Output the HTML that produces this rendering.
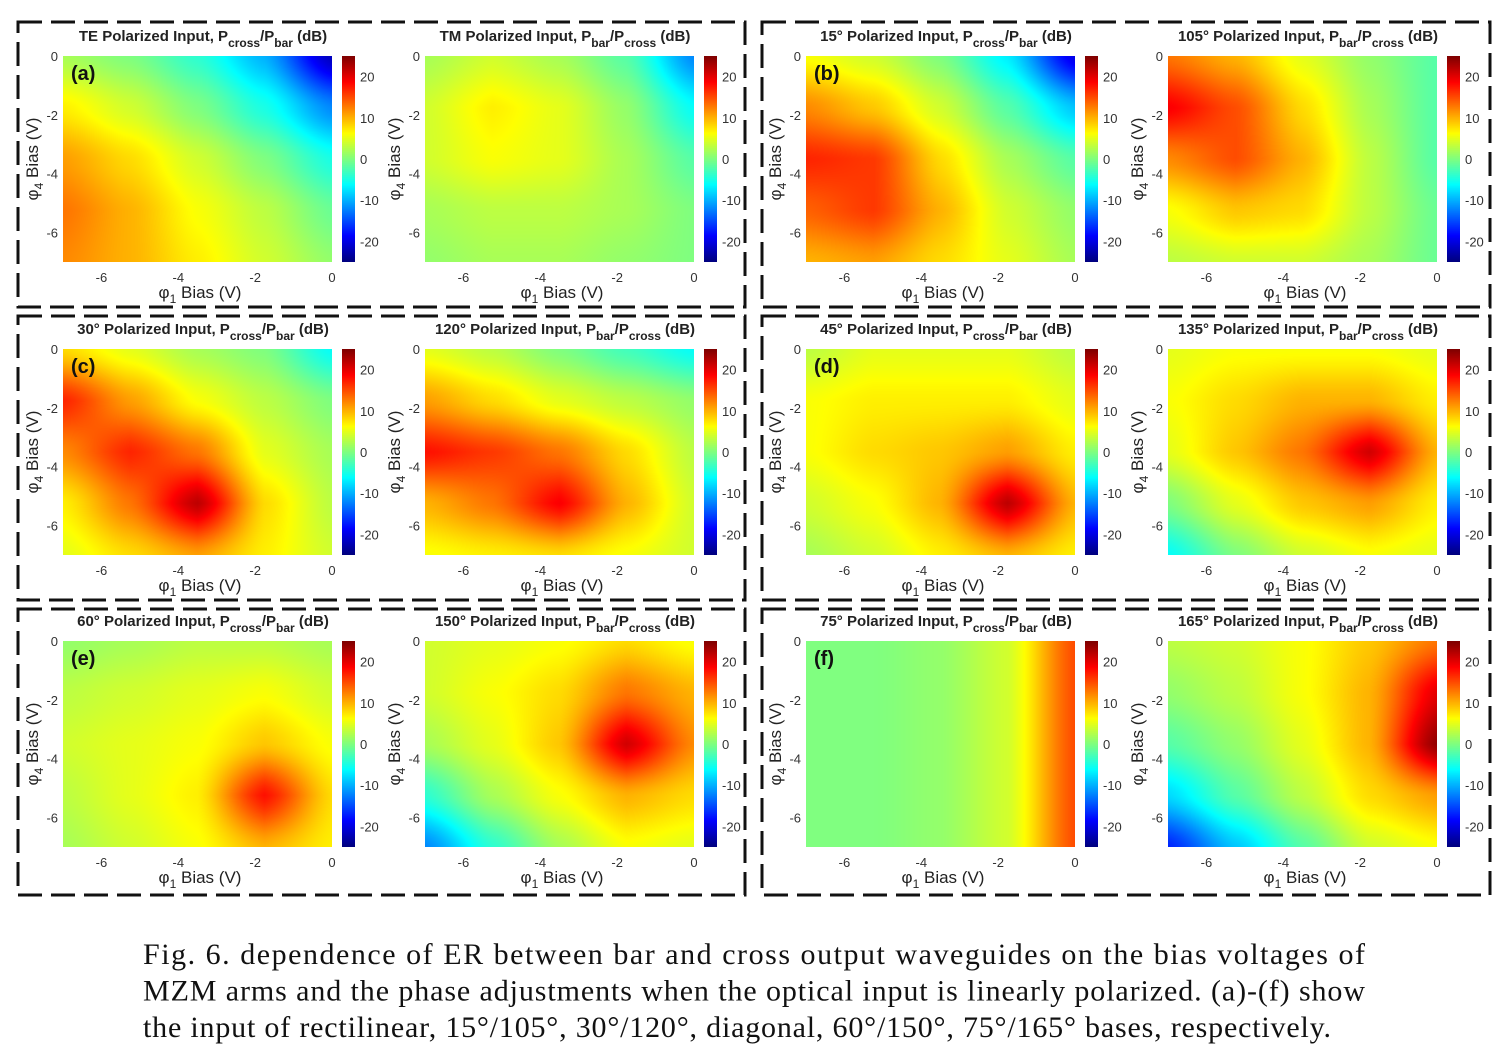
<!DOCTYPE html>
<html><head><meta charset="utf-8"><style>
html,body{margin:0;padding:0;background:#fff;}
#root{position:relative;width:1509px;height:1055px;overflow:hidden;}
canvas{position:absolute;z-index:1;}
svg{position:absolute;left:0;top:0;z-index:2;}
text{font-family:"Liberation Sans",sans-serif;}
</style></head><body>
<div id="root">
<svg id="ov" width="1509" height="1055"></svg>
</div>
<script>
// Heatmap grids (dB), rows: phi4 = 0 .. -7, cols: phi1 = -7 .. 0
const gridA1=[[2,0,-4,-10,-22],[7,4,0,-5,-12],[11,8,4,0,-5],[13,10,6,3,-1],[12,10,7,4,1]];
const gridA2=[[2,4,2,-2,-12],[4,7,5,1,-6],[4,6,5,2,-2],[2,3,3,2,0],[1,2,2,1,0]];
const gridB1=[[6,4,0,-7,-20],[12,9,4,-2,-9],[17,16,8,2,-2],[14,16,10,4,1],[10,11,8,5,2]];
const gridB2=[[13,10,5,1,-2],[19,15,8,2,-2],[12,15,10,3,-2],[6,9,8,3,-1],[3,4,4,2,-1]];
const gridC1=[[8,5,2,0,-6],[17,11,6,3,0],[12,17,13,5,2],[7,13,22,8,3],[5,8,11,7,4]];
const gridC2=[[5,3,0,-3,-6],[11,8,5,3,1],[18,16,13,8,3],[10,13,19,10,4],[6,7,8,6,4]];
const gridD1=[[3,5,5,5,3],[6,7,7,7,5],[6,8,9,11,7],[4,6,10,22,10],[2,4,7,10,7]];
const gridD2=[[5,6,6,6,5],[6,8,10,10,7],[5,9,13,21,10],[0,5,9,11,7],[-6,0,4,6,5]];
const gridE1=[[1,2,3,3,2],[3,4,5,6,4],[4,5,6,9,6],[3,5,7,18,8],[2,4,6,10,7]];
const gridE2=[[4,5,6,8,6],[4,6,8,13,10],[2,5,9,21,12],[-4,2,6,10,8],[-12,-4,2,6,5]];
const gridF1=[[0,0,1,4,15],[0,0,1,4,15],[0,0,1,4,15],[0,0,1,4,15],[0,0,1,4,15]];
const gridF2=[[3,4,6,9,13],[1,3,6,10,20],[-2,1,5,10,24],[-8,-2,3,8,11],[-17,-9,-2,4,6]];
const panelTitles=[
 ["TE Polarized Input, P","cross","bar"],["TM Polarized Input, P","bar","cross"],
 ["15° Polarized Input, P","cross","bar"],["105° Polarized Input, P","bar","cross"],
 ["30° Polarized Input, P","cross","bar"],["120° Polarized Input, P","bar","cross"],
 ["45° Polarized Input, P","cross","bar"],["135° Polarized Input, P","bar","cross"],
 ["60° Polarized Input, P","cross","bar"],["150° Polarized Input, P","bar","cross"],
 ["75° Polarized Input, P","cross","bar"],["165° Polarized Input, P","bar","cross"]];
const grids=[gridA1,gridA2,gridB1,gridB2,gridC1,gridC2,gridD1,gridD2,gridE1,gridE2,gridF1,gridF2];
const panelLetters=["(a)","(b)","(c)","(d)","(e)","(f)"];
const xTicks=[-6,-4,-2,0];
const yTicks=[0,-2,-4,-6];
const cbTicks=[20,10,0,-10,-20];

const NS="http://www.w3.org/2000/svg";
const ov=document.getElementById('ov');
const root=document.getElementById('root');
const PW=269,PH=206;
const sx=(v,x0)=>x0+(v+7)/7*PW;
const sy=(v,y0)=>y0+(-v)/7*PH;
const cy=(v,y0)=>y0+(25-v)/50*PH;
function jet(t){t=Math.max(0,Math.min(1,t));
 const r=Math.max(0,Math.min(1,1.5-Math.abs(4*t-3)));
 const g=Math.max(0,Math.min(1,1.5-Math.abs(4*t-2)));
 const b=Math.max(0,Math.min(1,1.5-Math.abs(4*t-1)));
 return [r*255,g*255,b*255];}
function mk(tag,attrs,txt){const e=document.createElementNS(NS,tag);for(const k in attrs)e.setAttribute(k,attrs[k]);if(txt!==undefined)e.textContent=txt;ov.appendChild(e);return e;}
function sm(a){return a*a*(3-2*a);}
function sample(g,u,v){const n=g[0].length-1,m=g.length-1;
 const fx=u*n,fy=v*m;const i=Math.min(n-1,Math.floor(fx)),j=Math.min(m-1,Math.floor(fy));
 const a=0.5*(fx-i)+0.5*sm(fx-i),b=0.5*(fy-j)+0.5*sm(fy-j);
 return g[j][i]*(1-a)*(1-b)+g[j][i+1]*a*(1-b)+g[j+1][i]*(1-a)*b+g[j+1][i+1]*a*b;}
const rowsY=[[22,307],[316,600],[609,895]];
const groupsX=[[18,745],[762,1490]];
rowsY.forEach((r,ri)=>groupsX.forEach((g,gi)=>{
 const e=mk('rect',{x:g[0],y:r[0],width:g[1]-g[0],height:r[1]-r[0],fill:'none',stroke:'#111','stroke-width':3,'stroke-dasharray':'24 9'});
 
 
}));
const rowPlotY=[56,349,641];
const groupPlotX=[63,806];
let idx=0;
for(let r=0;r<3;r++)for(let g=0;g<2;g++)for(let p=0;p<2;p++){
 const x0=groupPlotX[g]+p*362,y0=rowPlotY[r],grid=grids[idx],tt=panelTitles[idx];
 const c=document.createElement('canvas');c.width=PW;c.height=PH;c.style.left=x0+'px';c.style.top=y0+'px';
 
 
 const ctx=c.getContext('2d');const im=ctx.createImageData(PW,PH);
 for(let yy=0;yy<PH;yy++)for(let xx=0;xx<PW;xx++){const v=sample(grid,xx/(PW-1),yy/(PH-1));const col=jet((v+25)/50);const k=(yy*PW+xx)*4;im.data[k]=col[0];im.data[k+1]=col[1];im.data[k+2]=col[2];im.data[k+3]=255;}
 ctx.putImageData(im,0,0);root.appendChild(c);
 const cbx=x0+279;const cb=document.createElement('canvas');cb.width=13;cb.height=PH;cb.style.left=cbx+'px';cb.style.top=y0+'px';
 
 
 const cc=cb.getContext('2d');for(let yy=0;yy<PH;yy++){const col=jet(1-yy/(PH-1));cc.fillStyle=`rgb(${col[0]|0},${col[1]|0},${col[2]|0})`;cc.fillRect(0,yy,13,1);}
 root.appendChild(cb);
 cbTicks.forEach(t=>{const e=mk('text',{x:cbx+18,y:cy(t,y0)+5,'font-size':13,fill:'#333'},String(t));
  
  });
 const te=mk('text',{x:x0+140,y:y0-15,'text-anchor':'middle','font-size':15,'font-weight':'bold',fill:'#222'});
 
 
 te.innerHTML=`${tt[0]}<tspan font-size="12" dy="6">${tt[1]}</tspan><tspan dy="-6">/P</tspan><tspan font-size="12" dy="6">${tt[2]}</tspan><tspan dy="-6"> (dB)</tspan>`;
 xTicks.forEach(t=>{const e=mk('text',{x:sx(t,x0),y:y0+PH+20,'text-anchor':'middle','font-size':13,fill:'#333'},String(t));
  
  });
 yTicks.forEach(t=>{const e=mk('text',{x:x0-5,y:sy(t,y0)+5,'text-anchor':'end','font-size':13,fill:'#333'},String(t));
  
  });
 const xl=mk('text',{x:x0+137,y:y0+PH+36,'text-anchor':'middle','font-size':17,fill:'#222'});
 
 
 xl.innerHTML='φ<tspan font-size="12" dy="5">1</tspan><tspan dy="-5"> Bias (V)</tspan>';
 const yl=mk('text',{x:0,y:0,'text-anchor':'middle','font-size':17,fill:'#222',transform:`translate(${x0-25},${y0+103}) rotate(-90)`});
 
 
 yl.innerHTML='φ<tspan font-size="12" dy="5">4</tspan><tspan dy="-5"> Bias (V)</tspan>';
 if(p===0){const e=mk('text',{x:x0+8,y:y0+24,'font-size':20,'font-weight':'bold',fill:'#111'},panelLetters[r*2+g]);
  
  }
 idx++;
}
const capLines=["Fig. 6. dependence of ER between bar and cross output waveguides on the bias voltages of",
"MZM arms and the phase adjustments when the optical input is linearly polarized. (a)-(f) show",
"the input of rectilinear, 15°/105°, 30°/120°, diagonal, 60°/150°, 75°/165° bases, respectively."];
const capW=[1222,1222,1188];
capLines.forEach((l,i)=>{const e=mk('text',{x:143,y:964+i*36.5,'font-size':30,fill:'#111',style:'font-family:"Liberation Serif",serif',textLength:capW[i],lengthAdjust:'spacing'},l);
 
 });
</script>
</body></html>
